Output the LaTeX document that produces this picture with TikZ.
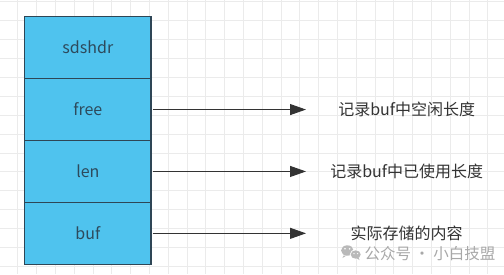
\documentclass[tikz,border=0pt]{standalone}
\usepackage{fontspec}
\newfontfamily\cjk{Noto Sans CJK SC}
\usetikzlibrary{arrows.meta}
\definecolor{gridc}{HTML}{EBEBEB}
\definecolor{cellfill}{HTML}{4FC3EE}
\definecolor{celldraw}{HTML}{2E4656}
\definecolor{celltext}{HTML}{2D4A5C}
\definecolor{arrc}{HTML}{333333}
\definecolor{wm}{HTML}{A8A8A8}
\tikzset{
  cell/.style={draw=celldraw, line width=1.1pt, fill=cellfill, minimum width=126.3pt, minimum height=61.9pt, inner sep=0pt, text=celltext, font=\cjk\fontsize{16}{19}\selectfont},
  desc/.style={text=arrc, inner sep=0pt, anchor=center, font=\cjk\fontsize{16}{19}\selectfont},
  arr/.style={draw=arrc, line width=1pt, -{Triangle[length=16pt,width=11pt]}},
}
\begin{document}
\begin{tikzpicture}[x=1pt,y=-1pt]
\useasboundingbox (0,0) rectangle (504,274);
\fill[white] (0,0) rectangle (504,274);
% grid
\foreach \i in {0,...,26} {
  \draw[gridc, line width=0.9pt] ({17.9+18.8*\i},0) -- ({17.9+18.8*\i},274);
}
\foreach \j in {0,...,14} {
  \draw[gridc, line width=0.9pt] (0,{1.8+18.9*\j}) -- (504,{1.8+18.9*\j});
}
% structure
\node[cell] (sdshdr) at (87.85,47.65) {sdshdr};
\node[cell] (free) at (87.85,109.55) {free};
\node[cell] (len) at (87.85,171.45) {len};
\node[cell] (buf) at (87.85,233.35) {buf};
% labels
\node[desc] (d1) at (406.7,109.55) {记录buf中空闲长度};
\node[desc] (d2) at (406.7,171.45) {记录buf中已使用长度};
\node[desc] (d3) at (406.7,233.35) {实际存储的内容};
\coordinate (t1) at (306,109.55);
\coordinate (t2) at (306,171.45);
\coordinate (t3) at (306,233.35);
\draw[arr] (free.east) ++(1,0) -- (t1);
\draw[arr] (len.east) ++(1,0) -- (t2);
\draw[arr] (buf.east) ++(1,0) -- (t3);
% watermark
\fill[wm!80] (347.3,250.5) ellipse (6.2pt and 5.2pt);
\fill[wm!80] (343.6,255.5) -- (342.5,258) -- (346.5,255.5) -- cycle;
\fill[white] (355.7,254.5) ellipse (5.9pt and 5.0pt);
\fill[wm!80] (355.7,254.5) ellipse (5.0pt and 4.2pt);
\fill[wm!80] (358.5,257.5) -- (359.5,260) -- (356.5,258.2) -- cycle;
\fill[white] (345.0,248.8) circle (0.9pt);
\fill[white] (349.6,248.8) circle (0.9pt);
\fill[white] (354.0,253.6) circle (0.7pt);
\fill[white] (357.6,253.6) circle (0.7pt);
\node[text=wm, inner sep=0pt, anchor=west, font=\cjk\fontsize{15.5}{18}\selectfont] (wmtext) at (364.3,253.5) {公众号 · 小白技盟};
\end{tikzpicture}
\end{document}
